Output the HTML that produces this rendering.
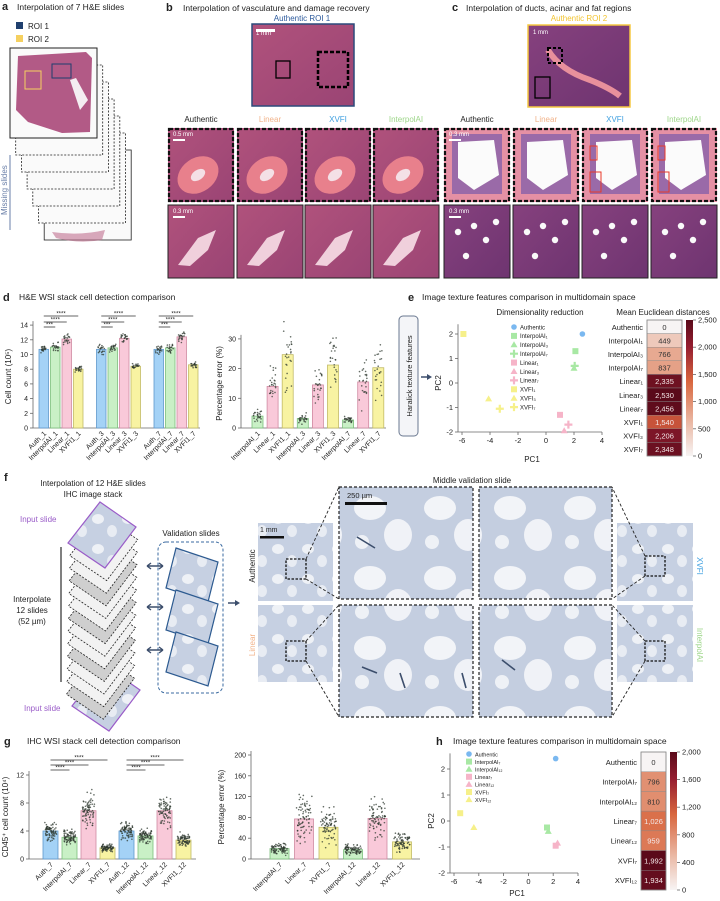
<!DOCTYPE html>
<html><head><meta charset="utf-8">
<style>
html,body{margin:0;padding:0;background:#fff;}
svg{display:block;font-family:"Liberation Sans",sans-serif;}
text{fill:#222;}
</style></head>
<body>
<svg id="fig" width="720" height="901" viewBox="0 0 720 901" xmlns="http://www.w3.org/2000/svg">
<defs>
<linearGradient id="he1" x1="0" y1="0" x2="1" y2="1"><stop offset="0" stop-color="#b0527c"/><stop offset="1" stop-color="#9a4474"/></linearGradient>
<linearGradient id="he2" x1="0" y1="0" x2="1" y2="1"><stop offset="0" stop-color="#86417e"/><stop offset="1" stop-color="#6e3470"/></linearGradient>
<linearGradient id="cb1" x1="0" y1="1" x2="0" y2="0"><stop offset="0" stop-color="#f7f4f4"/><stop offset="0.25" stop-color="#eab8a4"/><stop offset="0.55" stop-color="#d8663e"/><stop offset="0.8" stop-color="#961e30"/><stop offset="1" stop-color="#5a0a1a"/></linearGradient>
<pattern id="ihc" width="30" height="30" patternUnits="userSpaceOnUse"><rect width="30" height="30" fill="#c6d0e2"/><ellipse cx="8" cy="9" rx="6" ry="5" fill="#eef1f6"/><ellipse cx="22" cy="21" rx="5" ry="6" fill="#e8ecf3"/></pattern>
<pattern id="ihcbig" width="70" height="70" patternUnits="userSpaceOnUse"><rect width="70" height="70" fill="#c4cee0"/><ellipse cx="20" cy="18" rx="16" ry="12" fill="#f2f4f8"/><ellipse cx="48" cy="45" rx="14" ry="16" fill="#f0f2f7"/><circle cx="12" cy="52" r="7" fill="#eef1f6"/></pattern>
</defs>

<!-- Panel a -->
<g>
<text x="2" y="10" font-size="11" font-weight="bold">a</text>
<text x="17" y="10" font-size="8.5">Interpolation of 7 H&amp;E slides</text>
<rect x="16" y="22" width="7" height="7" fill="#1f3f6e"/>
<text x="28" y="29" font-size="8">ROI 1</text>
<rect x="16" y="35" width="7" height="7" fill="#f5d060"/>
<text x="28" y="42" font-size="8">ROI 2</text>
<g id="stack-a"></g>
<line x1="10" y1="155" x2="10" y2="230" stroke="#6a7fa8" stroke-width="1"/>
<text transform="translate(7,215) rotate(-90)" font-size="8" style="fill:#6a7fa8">Missing slides</text>
</g>

<!-- Panel b / c -->
<g>
<text x="166" y="11" font-size="11" font-weight="bold">b</text>
<text x="183" y="11" font-size="8.5">Interpolation of vasculature and damage recovery</text>
<text x="302" y="21" font-size="8" text-anchor="middle" style="fill:#2c5a9c">Authentic ROI 1</text>
<rect x="252" y="24" width="102" height="82" fill="url(#he1)" stroke="#2c4a7c" stroke-width="1.5"/>
<rect x="256" y="29" width="19" height="3" fill="#fff"/>
<text x="256" y="35" font-size="6" style="fill:#fff">1 mm</text>
<rect x="276" y="61" width="14" height="17" fill="none" stroke="#000" stroke-width="1.3"/>
<rect x="318" y="52" width="30" height="35" fill="none" stroke="#000" stroke-width="2.5" stroke-dasharray="4,2"/>
</g>
<g>
<text x="452" y="11" font-size="11" font-weight="bold">c</text>
<text x="466" y="11" font-size="8.5">Interpolation of ducts, acinar and fat regions</text>
<text x="579" y="21" font-size="8" text-anchor="middle" style="fill:#f2c430">Authentic  ROI 2</text>
<rect x="528" y="25" width="102" height="82" fill="url(#he2)" stroke="#f5c842" stroke-width="1.5"/>
<path d="M548 50 Q560 70 590 80 Q610 88 620 96" stroke="#e8909c" stroke-width="6" fill="none"/>
<rect x="548" y="48" width="14" height="15" fill="none" stroke="#000" stroke-width="2" stroke-dasharray="3,2"/>
<rect x="535" y="77" width="15" height="21" fill="none" stroke="#000" stroke-width="1.3"/>
<text x="533" y="34" font-size="6" style="fill:#fff">1 mm</text>
</g>
<g id="tiles"></g>

<!-- Panel d -->
<g>
<text x="3" y="301" font-size="11" font-weight="bold">d</text>
<text x="19" y="300" font-size="8.5">H&amp;E WSI stack cell detection comparison</text>
<g id="d-left"></g>
<g id="d-right"></g>
</g>

<!-- Panel e -->
<g>
<text x="408" y="301" font-size="11" font-weight="bold">e</text>
<text x="422" y="300" font-size="8.5">Image texture features comparison in multidomain space</text>
<rect x="399" y="316" width="19" height="120" rx="4" fill="#f4f5f8" stroke="#6a7890" stroke-width="1"/>
<text transform="translate(412,376) rotate(-90)" font-size="7.5" text-anchor="middle">Haralick texture features</text>
<path d="M421 377 L428 377" stroke="#3c4e6c" stroke-width="1.5"/><path d="M432 377 L427 374 L427 380 Z" fill="#3c4e6c"/>
<text x="540" y="315" font-size="8" text-anchor="middle">Dimensionality reduction</text>
<text x="663" y="315" font-size="8" text-anchor="middle">Mean Euclidean distances</text>
<g id="e-scatter"></g>
<g id="e-heat"></g>
</g>

<!-- Panel f -->
<g>
<text x="4" y="481" font-size="11" font-weight="bold">f</text>
<text x="93" y="486" font-size="8" text-anchor="middle">Interpolation of 12 H&amp;E slides</text>
<text x="93" y="497" font-size="8" text-anchor="middle">IHC image stack</text>
<g id="f-stack"></g>
<text x="20" y="522" font-size="8" style="fill:#9a5cc8">Input slide</text>
<text x="24" y="711" font-size="8" style="fill:#9a5cc8">Input slide</text>
<line x1="61" y1="547" x2="61" y2="682" stroke="#000" stroke-width="1"/>
<text x="32" y="602" font-size="8" text-anchor="middle">Interpolate</text>
<text x="32" y="613" font-size="8" text-anchor="middle">12 slides</text>
<text x="32" y="624" font-size="8" text-anchor="middle">(52 µm)</text>
<text x="191" y="536" font-size="8" text-anchor="middle">Validation slides</text>
<rect x="158" y="542" width="65" height="151" rx="8" fill="none" stroke="#3a6aa0" stroke-width="1" stroke-dasharray="3,2"/>
<g id="f-valid"></g>
<path d="M228 603 L236 603" stroke="#3c4e6c" stroke-width="1.5"/><path d="M240 603 L235 600 L235 606 Z" fill="#3c4e6c"/>
<text x="472" y="483" font-size="8" text-anchor="middle">Middle validation slide</text>
<g id="f-images"></g>
</g>

<!-- Panel g -->
<g>
<text x="4" y="745" font-size="11" font-weight="bold">g</text>
<text x="27" y="744" font-size="8.5">IHC WSI stack cell detection comparison</text>
<g id="g-left"></g>
<g id="g-right"></g>
</g>

<!-- Panel h -->
<g>
<text x="436" y="745" font-size="11" font-weight="bold">h</text>
<text x="453" y="744" font-size="8.5">Image texture features comparison in multidomain space</text>
<g id="h-scatter"></g>
<g id="h-heat"></g>
</g>
</svg>

<script>
// ---------- data ----------
const dCountCats = ["Auth_1","InterpolAI_1","Linear_1","XVFI1_1","Auth_3","InterpolAI_3","Linear_3","XVFI1_3","Auth_7","InterpolAI_7","Linear_7","XVFI1_7"];
const dCountVals = [10.7,11.0,12.1,8.0,10.7,10.9,12.2,8.4,10.7,10.9,12.4,8.6];
const dCountTicks = [0,2,4,6,8,10,12,14];
const dErrCats = ["InterpolAI_1","Linear_1","XVFI1_1","InterpolAI_3","Linear_3","XVFI1_3","InterpolAI_7","Linear_7","XVFI1_7"];
const dErrVals = [4.0,14.0,24.7,3.2,14.5,21.2,2.7,15.5,20.3];
const dErrTicks = [0,10,20,30];
const eNames = ["Authentic","InterpolAI₁","InterpolAI₃","InterpolAI₇","Linear₁","Linear₃","Linear₇","XVFI₁","XVFI₃","XVFI₇"];
const ePC1 = [2.6,2.1,2.0,2.05,1.0,1.3,1.6,-5.9,-4.1,-3.3];
const ePC2 = [2.0,1.3,0.6,0.7,-1.3,-1.95,-1.7,2.0,-0.65,-1.05];
const eDist = [0,449,766,837,2335,2530,2456,1540,2206,2348];
const eCbTicks = [0,500,1000,1500,2000,2500];
const gCountCats = ["Auth_7","InterpolAI_7","Linear_7","XVFI1_7","Auth_12","InterpolAI_12","Linear_12","XVFI1_12"];
const gCountVals = [4.0,3.1,6.9,1.6,4.0,3.3,6.9,2.7];
const gCountTicks = [0,4,8,12];
const gErrCats = ["InterpolAI_7","Linear_7","XVFI1_7","InterpolAI_12","Linear_12","XVFI1_12"];
const gErrVals = [20,77,61,18,78,33];
const gErrTicks = [0,40,80,120,160,200];
const hNames = ["Authentic","InterpolAI₇","InterpolAI₁₂","Linear₇","Linear₁₂","XVFI₇","XVFI₁₂"];
const hPC1 = [2.2,1.5,1.6,2.2,2.35,-5.5,-4.4];
const hPC2 = [2.4,-0.25,-0.4,-0.95,-0.85,0.3,-0.25];
const hDist = [0,796,810,1026,959,1992,1934];
const hCbTicks = [0,400,800,1200,1600,2000];
const tileLabels = ["Authentic","Linear","XVFI","InterpolAI","Authentic","Linear","XVFI","InterpolAI"];

// ---------- helpers ----------
const NS="http://www.w3.org/2000/svg";
function mk(parent,tag,attrs,name,inter){
  const el=document.createElementNS(NS,tag);
  for(const k in attrs) el.setAttribute(k,attrs[k]);
  
  
  parent.appendChild(el);return el;
}
function txt(parent,x,y,s,size,anchor,name,fill,extra){
  const a={x:x,y:y,'font-size':size,'text-anchor':anchor||'start'};
  if(fill) a.style='fill:'+fill;
  if(extra) for(const k in extra) a[k]=extra[k];
  const t=mk(parent,'text',a,name,false);t.textContent=s;return t;
}
let seed=7;function rnd(){seed=(seed*16807)%2147483647;return (seed-1)/2147483646;}
function colFor(cat){
  if(cat.startsWith('Auth'))return ['#a4d2f6','#5f98cc'];
  if(cat.startsWith('Interpol'))return ['#c9f0c6','#7cbf7c'];
  if(cat.startsWith('Linear'))return ['#f9c9d9','#d08aa2'];
  return ['#f8f3a2','#c2bb66'];
}
function heatColor(v,max){
  const stops=[[0,[247,244,244]],[0.25,[234,184,164]],[0.55,[216,102,62]],[0.8,[150,30,48]],[1,[90,10,26]]];
  const t=Math.max(0,Math.min(1,v/max));
  for(let i=1;i<stops.length;i++){if(t<=stops[i][0]){const a=stops[i-1],b=stops[i];const f=(t-a[0])/(b[0]-a[0]);
    const c=a[1].map((q,j)=>Math.round(q+(b[1][j]-q)*f));return 'rgb('+c.join(',')+')';}}
  return 'rgb(90,10,26)';
}

// generic bar chart
function barChart(g,o){
  const ys=v=>o.y0-v*o.k;
  mk(g,'line',{x1:o.ax,y1:o.y0,x2:o.ax,y2:ys(o.ticks[o.ticks.length-1])-4,stroke:'#666','stroke-width':0.8},'y-axis',false);
  mk(g,'line',{x1:o.ax,y1:o.y0,x2:o.xEnd,y2:o.y0,stroke:'#666','stroke-width':0.8},'x-axis',false);
  o.ticks.forEach(t=>{
    mk(g,'line',{x1:o.ax-3,y1:ys(t),x2:o.ax,y2:ys(t),stroke:'#666','stroke-width':0.8},'y-tick',false);
    txt(g,o.ax-5,ys(t)+2.5,String(t),7,'end','y-tick-label');
  });
  txt(g,0,0,o.ylabel,8,'middle','y-axis-title',null,{transform:'translate('+o.ylx+','+((o.y0+ys(o.ticks[o.ticks.length-1]))/2)+') rotate(-90)'});
  o.cats.forEach((c,i)=>{
    const x=o.xpos(i);const v=o.vals[i];const [f,s]=colFor(c);
    mk(g,'rect',{x:x,y:ys(v),width:o.w,height:o.y0-ys(v),fill:f,stroke:s,'stroke-width':0.8},'bar-'+c.toLowerCase(),false);
    for(let j=0;j<o.n;j++){
      const vv=Math.max(0,v+(rnd()+rnd()+rnd()-1.5)*o.spread*v);
      mk(g,'circle',{cx:x+1.5+rnd()*(o.w-3),cy:ys(vv),r:0.8,fill:'#2f3a30','fill-opacity':0.75},'data-point',false);
    }
    txt(g,0,0,c,7,'end','x-tick-label',null,{transform:'translate('+(x+o.w/2+3)+','+(o.y0+6)+') rotate(-45)'});
  });
}

// ---------- panel a stack ----------
(function(){
  const g=document.getElementById('stack-a');
  for(let i=6;i>=1;i--){
    const x=10+i*5.7,y=48+i*17;
    mk(g,'rect',{x:x,y:y,width:87,height:90,fill:'#fafafa',stroke:'#222','stroke-width':0.8,'stroke-dasharray':i==6?'':'2,1.5'},'stacked-slide',false);
  }
  mk(g,'path',{d:'M52 232 Q80 236 105 230 L102 240 Q78 244 56 238 Z',fill:'#c07090','fill-opacity':0.6},'bottom-slide-tissue',false);
  mk(g,'rect',{x:10,y:48,width:87,height:90,fill:'#fafafa',stroke:'#222','stroke-width':1},'top-slide',false);
  mk(g,'path',{d:'M18 56 L86 52 L92 58 L90 132 L62 133 L28 122 L16 110 Z',fill:'#b25a86'},'top-slide-tissue',false);
  mk(g,'path',{d:'M70 80 L80 110 L88 100 L76 78 Z',fill:'#f4eef2'},'tissue-gap',false);
  mk(g,'rect',{x:52,y:64,width:19,height:14,fill:'none',stroke:'#1f3f6e','stroke-width':1},'roi1-marker',false);
  mk(g,'rect',{x:25,y:71,width:16,height:18,fill:'none',stroke:'#f5d060','stroke-width':1},'roi2-marker',false);
})();

// ---------- tiles ----------
(function(){
  const g=document.getElementById('tiles');
  const xs=[168,237,305,373,444,513,582,651];
  const labCol=['#222','#f2b48c','#3fa0e0','#9ed68a'];
  xs.forEach((x,i)=>{
    txt(g,x+33,122,tileLabels[i],8,'middle','tile-label-'+tileLabels[i].toLowerCase(),labCol[i%4]);
    const c=i>=4;
    mk(g,'rect',{x:x,y:128,width:66,height:74,fill:c?'#e590a4':'url(#he1)'},'tile-row1',false);
    if(!c){ mk(g,'ellipse',{cx:x+30,cy:175,rx:22,ry:17,fill:'#e8808c',transform:'rotate(-35 '+(x+30)+' 175)'},'vessel',false);
            mk(g,'ellipse',{cx:x+30,cy:175,rx:8,ry:5,fill:'#f4e0e6',transform:'rotate(-35 '+(x+30)+' 175)'},'vessel-lumen',false);}
    else { mk(g,'rect',{x:x+8,y:134,width:50,height:60,fill:'#9a6aa8'},'duct-wall',false);
           mk(g,'path',{d:'M'+(x+14)+' 142 L'+(x+50)+' 140 L'+(x+55)+' 175 L'+(x+30)+' 190 L'+(x+14)+' 178 Z',fill:'#fbfbfb'},'duct-lumen',false);}
    mk(g,'rect',{x:x+1,y:129,width:64,height:72,fill:'none',stroke:'#111','stroke-width':2.2,'stroke-dasharray':'4,2'},'tile-row1-border',false);
    mk(g,'rect',{x:x,y:205,width:66,height:73,fill:c?'url(#he2)':'url(#he1)',stroke:'#222','stroke-width':1},'tile-row2',false);
    if(!c){ mk(g,'path',{d:'M'+(x+10)+' 265 L'+(x+30)+' 238 L'+(x+48)+' 230 L'+(x+40)+' 250 L'+(x+22)+' 266 Z',fill:'#f0d0dc'},'vessel-2',false);}
    else { [[14,232],[30,226],[42,240],[22,256],[52,222]].forEach(p=>mk(g,'circle',{cx:x+p[0],cy:p[1],r:3.2,fill:'#fafafa'},'fat-cell',false)); }
  });
  [168,444].forEach(x=>{mk(g,'rect',{x:x+5,y:139,width:12,height:2,fill:'#fff'},'scalebar',false);txt(g,x+5,136,x<300?'0.5 mm':'0.3 mm',6,'start','scale-label','#fff');
    mk(g,'rect',{x:x+5,y:216,width:12,height:2,fill:'#fff'},'scalebar',false);txt(g,x+5,213,'0.3 mm',6,'start','scale-label','#fff');});
  [[590,146,7,14],[590,172,11,20],[658,146,7,14],[658,172,11,20]].forEach(r=>mk(g,'rect',{x:r[0],y:r[1],width:r[2],height:r[3],fill:'none',stroke:'#e83a2a','stroke-width':1},'red-box',false));
})();

// ---------- panel d ----------
barChart(document.getElementById('d-left'),{ax:33,y0:428,k:7.35,xEnd:200,ticks:dCountTicks,cats:dCountCats,vals:dCountVals,
  xpos:i=>39+Math.floor(i/4)*57.5+(i%4)*11.5,w:9.5,n:22,spread:0.05,ylabel:'Cell count (10⁵)',ylx:11});
(function(){
  const g=document.getElementById('d-left');
  for(let gi=0;gi<3;gi++){
    const a=39+gi*57.5+4.75;
    [[3,316,'****'],[2,322,'****'],[1,327,'***']].forEach(s=>{
      const b=39+gi*57.5+s[0]*11.5+4.75;
      mk(g,'line',{x1:a,y1:s[1],x2:b,y2:s[1],stroke:'#333','stroke-width':0.8},'significance-bar',false);
      txt(g,(a+b)/2,s[1]-0.5,s[2],6,'middle','significance-stars');
    });
  }
})();
barChart(document.getElementById('d-right'),{ax:241,y0:428,k:2.97,xEnd:386,ticks:dErrTicks,cats:dErrCats,vals:dErrVals,
  xpos:i=>252+i*15.1,w:11,n:26,spread:0.5,ylabel:'Percentage error (%)',ylx:222});

// ---------- scatter + heat ----------
function scatter(g,o){
  const sx=v=>o.x0+(v+6)*o.kx, sy=v=>o.y0-v*o.ky;
  mk(g,'line',{x1:o.x0-4,y1:sy(-2),x2:o.x0-4,y2:sy(o.ymax),stroke:'#666','stroke-width':0.8},'y-axis',false);
  mk(g,'line',{x1:o.x0-4,y1:sy(-2),x2:sx(4),y2:sy(-2),stroke:'#666','stroke-width':0.8},'x-axis',false);
  [-6,-4,-2,0,2,4].forEach(t=>{mk(g,'line',{x1:sx(t),y1:sy(-2),x2:sx(t),y2:sy(-2)+3,stroke:'#666','stroke-width':0.8},'x-tick',false);
    txt(g,sx(t),sy(-2)+11,String(t),7.5,'middle','x-tick-label');});
  [-2,-1,0,1,2].forEach(t=>{mk(g,'line',{x1:o.x0-7,y1:sy(t),x2:o.x0-4,y2:sy(t),stroke:'#666','stroke-width':0.8},'y-tick',false);
    txt(g,o.x0-9,sy(t)+2.5,String(t),7.5,'end','y-tick-label');});
  txt(g,o.pc1x,o.pc1y,'PC1',8,'middle','x-axis-title');
  txt(g,0,0,'PC2',8,'middle','y-axis-title',null,{transform:'translate('+o.pc2x+','+o.y0+') rotate(-90)'});
  function marker(x,y,name){
    const c=name.startsWith('Auth')?'#7ab8f0':name.startsWith('Interpol')?'#a8e8a4':name.startsWith('Linear')?'#f6b4c8':'#f6f08a';
    if(name==='Authentic') return mk(g,'circle',{cx:x,cy:y,r:2.8,fill:c},'point-authentic',false);
    if(o.shape(name)==='sq') return mk(g,'rect',{x:x-3,y:y-3,width:6,height:6,fill:c},'point-square',false);
    if(o.shape(name)==='tri') return mk(g,'path',{d:'M'+x+' '+(y-3.5)+' L'+(x+3.5)+' '+(y+2.5)+' L'+(x-3.5)+' '+(y+2.5)+' Z',fill:c},'point-triangle',false);
    return mk(g,'path',{d:'M'+(x-4)+' '+y+' H'+(x+4)+' M'+x+' '+(y-4)+' V'+(y+4),stroke:c,'stroke-width':2.2},'point-plus',false);
  }
  o.names.forEach((n,i)=>{
    marker(sx(o.pc1[i]),sy(o.pc2[i]),n);
    marker(o.lx,o.ly+i*o.ls,n);
    txt(g,o.lx+6,o.ly+i*o.ls+2.3,n,o.lfs,'start','legend-entry');
  });
}
function heat(g,o){
  const h=(o.bot-o.top)/o.names.length;
  o.names.forEach((n,i)=>{
    const y=o.top+i*h;const v=o.vals[i];
    mk(g,'rect',{x:o.x,y:y,width:o.w,height:h,fill:heatColor(v,o.max),stroke:'#888','stroke-width':0.4},'heat-cell',false);
    txt(g,o.x+o.w/2,y+h/2+3,v.toLocaleString('en-US'),o.fs,'middle','heat-value',v>o.max*0.45?'#f4e8e8':'#333');
    txt(g,o.x-4,y+h/2+3,n,o.fs,'end','heat-row-label');
  });
  mk(g,'rect',{x:o.x,y:o.top,width:o.w,height:o.bot-o.top,fill:'none',stroke:'#888','stroke-width':0.8},'heat-border',false);
  mk(g,'rect',{x:o.cbx,y:o.top,width:7,height:o.bot-o.top,fill:'url(#cb1)'},'colorbar',false);
  o.ticks.forEach(t=>{const y=o.bot-(t/o.max)*(o.bot-o.top);
    mk(g,'line',{x1:o.cbx+7,y1:y,x2:o.cbx+10,y2:y,stroke:'#666','stroke-width':0.8},'colorbar-tick',false);
    txt(g,o.cbx+12,y+2.5,t.toLocaleString('en-US'),7.5,'start','colorbar-label');});
}
scatter(document.getElementById('e-scatter'),{x0:462,y0:383,kx:14,ky:24.5,ymax:2.4,names:eNames,pc1:ePC1,pc2:ePC2,
  shape:n=>n.endsWith('₁')?'sq':n.endsWith('₃')?'tri':'plus',lx:514,ly:327,ls:8.9,lfs:6,pc1x:532,pc1y:462,pc2x:441});
heat(document.getElementById('e-heat'),{names:eNames,vals:eDist,max:2500,top:320,bot:456,x:647,w:35,cbx:686,fs:7.5,ticks:eCbTicks});
scatter(document.getElementById('h-scatter'),{x0:454,y0:821,kx:12.4,ky:26,ymax:2.6,names:hNames,pc1:hPC1,pc2:hPC2,
  shape:n=>n.endsWith('₁₂')?'tri':'sq',lx:469,ly:754,ls:7.6,lfs:5.5,pc1x:517,pc1y:896,pc2x:434});
heat(document.getElementById('h-heat'),{names:hNames,vals:hDist,max:2000,top:752,bot:890,x:641,w:25,cbx:670,fs:7.5,ticks:hCbTicks});

// ---------- panel f ----------
(function(){
  const g=document.getElementById('f-stack');
  const para=(cx,cy,stroke,fill,dash,name)=>mk(g,'path',{d:'M'+(cx-2)+' '+(cy-33)+' L'+(cx+34)+' '+(cy-8)+' L'+(cx+3)+' '+(cy+33)+' L'+(cx-34)+' '+(cy+8)+' Z',fill:fill,stroke:stroke,'stroke-width':dash?0.8:1.2,'stroke-dasharray':dash?'2,1.5':''},name,false);
  para(106,698,'#9a5cc8','url(#ihc)',false,'input-slide-bottom');
  for(let i=12;i>=1;i--) para(104-i*0.3,535+i*12.6,'#222',i%3==0?'#cfcfcf':'#f2f2f2',true,'interpolated-slide');
  para(102,535,'#9a5cc8','url(#ihc)',false,'input-slide-top');
  const v=document.getElementById('f-valid');
  [574,616,658].forEach((cy,i)=>{
    mk(v,'path',{d:'M'+176+' '+(cy-26)+' L'+218+' '+(cy-12)+' L'+208+' '+(cy+28)+' L'+166+' '+(cy+14)+' Z',fill:'url(#ihc)',stroke:'#2c5a90','stroke-width':1.2},'validation-slide',false);
    const y=[566,607,650][i];
    mk(v,'path',{d:'M147 '+y+' L163 '+y+' M147 '+y+' l4 -3 M147 '+y+' l4 3 M163 '+y+' l-4 -3 M163 '+y+' l-4 3',stroke:'#3c4e6c','stroke-width':1.4,fill:'none'},'double-arrow',false);
  });
  const im=document.getElementById('f-images');
  [[258,523,75,78],[258,605,75,77],[617,523,76,78],[617,605,76,77]].forEach(r=>mk(im,'rect',{x:r[0],y:r[1],width:r[2],height:r[3],fill:'url(#ihc)'},'ihc-thumbnail',false));
  [[339,487,134,112],[479,487,133,112],[339,605,134,112],[479,605,133,112]].forEach(r=>{
    mk(im,'rect',{x:r[0],y:r[1],width:r[2],height:r[3],fill:'url(#ihcbig)'},'ihc-zoom',false);
    mk(im,'rect',{x:r[0],y:r[1],width:r[2],height:r[3],fill:'none',stroke:'#222','stroke-width':1.2,'stroke-dasharray':'3,2'},'ihc-zoom-border',false);
  });
  [[286,559],[286,641],[645,556],[645,641]].forEach(p=>mk(im,'rect',{x:p[0],y:p[1],width:20,height:20,fill:'none',stroke:'#111','stroke-width':1.3,'stroke-dasharray':'2.5,1.5'},'roi-square',false));
  [[306,559,339,487],[306,579,339,599],[306,641,339,605],[306,661,339,717],[645,556,612,487],[645,576,612,599],[645,641,612,605],[645,661,612,717]].forEach(l=>
    mk(im,'line',{x1:l[0],y1:l[1],x2:l[2],y2:l[3],stroke:'#222','stroke-width':0.9,'stroke-dasharray':'3,2'},'connector',false));
  mk(im,'rect',{x:345,y:502,width:42,height:3,fill:'#111'},'scalebar-250',false);
  txt(im,347,498,'250 µm',7.5,'start','scale-label-250');
  mk(im,'rect',{x:260,y:536,width:24,height:2.5,fill:'#111'},'scalebar-1mm',false);
  txt(im,260,532,'1 mm',7,'start','scale-label-1mm');
  txt(im,0,0,'Authentic',8,'middle','row-label-authentic',null,{transform:'translate(255,566) rotate(-90)'});
  txt(im,0,0,'Linear',8,'middle','row-label-linear','#f2b48c',{transform:'translate(255,645) rotate(-90)'});
  txt(im,0,0,'XVFI',8,'middle','row-label-xvfi','#3fa0e0',{transform:'translate(697,566) rotate(90)'});
  txt(im,0,0,'InterpolAI',8,'middle','row-label-interpolai','#9ed68a',{transform:'translate(697,645) rotate(90)'});
  [[357,537,375,548],[362,667,377,673],[405,688,400,673],[466,688,462,673],[502,660,515,670]].forEach(a=>
    mk(im,'line',{x1:a[0],y1:a[1],x2:a[2],y2:a[3],stroke:'#3c4e6c','stroke-width':1.6},'arrow',false));
})();

// ---------- panel g ----------
barChart(document.getElementById('g-left'),{ax:29,y0:859,k:7,xEnd:196,ticks:gCountTicks,cats:gCountCats,vals:gCountVals,
  xpos:i=>43+i*19,w:15,n:80,spread:0.32,ylabel:'CD45⁺ cell count (10⁴)',ylx:8});
(function(){
  const g=document.getElementById('g-left');
  [0,4].forEach(s=>{const a=43+s*19+7.5;
    [[3,760],[2,765],[1,770]].forEach(q=>{const b=43+(s+q[0])*19+7.5;
      mk(g,'line',{x1:a,y1:q[1],x2:b,y2:q[1],stroke:'#333','stroke-width':0.8},'significance-bar',false);
      txt(g,(a+b)/2,q[1]-0.5,'****',6,'middle','significance-stars');});});
})();
barChart(document.getElementById('g-right'),{ax:251,y0:859,k:0.52,xEnd:420,ticks:gErrTicks,cats:gErrCats,vals:gErrVals,
  xpos:i=>270+i*24.5,w:19,n:80,spread:0.55,ylabel:'Percentage error (%)',ylx:224});
</script>
</body></html>
